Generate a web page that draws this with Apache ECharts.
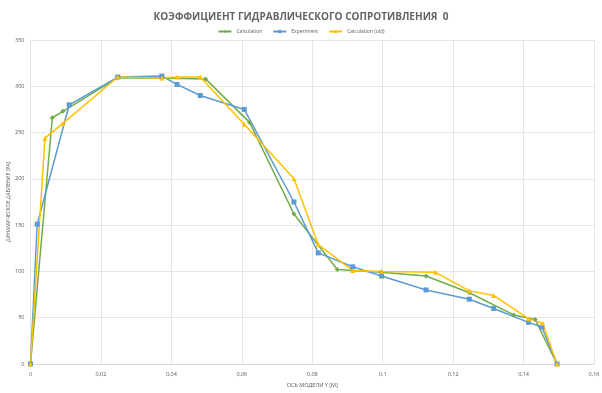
<!DOCTYPE html>
<html><head><meta charset="utf-8">
<script src="https://cdn.jsdelivr.net/npm/echarts@6/dist/echarts.min.js"></script>
<style>html,body{margin:0;padding:0;background:#fff}#c{width:602px;height:393px}</style>
</head><body><div id="c"></div>
<script>
const calcX = [0, 0.0062, 0.0092, 0.0247, 0.0373, 0.0497, 0.0622, 0.0748, 0.0871, 0.0995, 0.1123, 0.1246, 0.1372, 0.1433, 0.1495];
const calcY = [0, 266, 273, 309, 309, 308, 261, 162, 102, 99, 95, 77, 53, 48, 0];
const expX = [0, 0.0019, 0.011, 0.0248, 0.0373, 0.0416, 0.0482, 0.0607, 0.0748, 0.0817, 0.0915, 0.0997, 0.1123, 0.1246, 0.1315, 0.1414, 0.1452, 0.1495];
const expY = [0, 151, 280, 310, 311, 302, 290, 275, 175, 120, 105, 95, 80, 70, 60, 45, 40, 0];
const oldX = [0, 0.0041, 0.0092, 0.0248, 0.0373, 0.0417, 0.0482, 0.0607, 0.0748, 0.0817, 0.0915, 0.0997, 0.115, 0.1246, 0.1315, 0.1414, 0.1454, 0.1495];
const oldY = [0, 244, 260, 310, 309, 310, 310, 259, 200, 129, 101, 100, 99, 79, 74, 49, 44, 0];
const seriesNames = ['Calculation', 'Experiment', 'Calculation (old)'];
const titleText = 'КОЭФФИЦИЕНТ ГИДРАВЛИЧЕСКОГО СОПРОТИВЛЕНИЯ  0';
const xTitle = 'ОСЬ МОДЕЛИ Y [M]';
const yTitle = 'ДИНАМИЧЕСКОЕ ДАВЛЕНИЕ [PA]';

const zip = (xs, ys) => xs.map((x, i) => [x, ys[i]]);
const font = '"Open Sans", sans-serif';
const chart = echarts.init(document.getElementById('c'));
const mk = (name, xs, ys, color, symbol, size) => ({
  name, type: 'line', data: zip(xs, ys), symbol, symbolSize: size,
  lineStyle: { color, width: 1.5 }, itemStyle: { color }, animation: false
});
chart.setOption({
  animation: false,
  title: { text: titleText, left: 'center', top: 7,
    textStyle: { fontFamily: font, fontSize: 10, fontWeight: 'bold', color: '#646464' } },
  legend: { top: 24, left: 'center', itemWidth: 13, itemHeight: 4, itemGap: 10,
    textStyle: { fontFamily: font, fontSize: 5, color: '#595959' } },
  grid: { left: 30.5, right: 8, top: 40, bottom: 29, containLabel: false, outerBoundsMode: 'none' },
  xAxis: { type: 'value', min: 0, max: 0.16, interval: 0.02,
    name: xTitle, nameLocation: 'middle', nameGap: 18,
    nameTextStyle: { fontFamily: font, fontSize: 5.5, color: '#595959' },
    axisLine: { show: true, lineStyle: { color: '#d9d9d9' } }, axisTick: { show: false },
    axisLabel: { fontFamily: font, fontSize: 5.5, color: '#595959', margin: 7,
      formatter: v => String(+v.toFixed(2)).replace('.', ',') },
    splitLine: { show: true, lineStyle: { color: '#e5e5e5' } } },
  yAxis: { type: 'value', min: 0, max: 350, interval: 50,
    name: yTitle, nameLocation: 'middle', nameGap: 22, nameRotate: 90, nameMoveOverlap: false,
    nameTextStyle: { fontFamily: font, fontSize: 5, color: '#595959', verticalAlign: 'middle' },
    axisLine: { show: false }, axisTick: { show: false },
    axisLabel: { fontFamily: font, fontSize: 5.5, color: '#595959', margin: 6 },
    splitLine: { show: true, lineStyle: { color: '#e5e5e5' } } },
  series: [
    mk(seriesNames[0], calcX, calcY, '#70AD47', 'diamond', 5),
    mk(seriesNames[1], expX, expY, '#5B9BD5', 'rect', 5),
    mk(seriesNames[2], oldX, oldY, '#FFC000', 'triangle', 5)
  ]
});
</script></body></html>
